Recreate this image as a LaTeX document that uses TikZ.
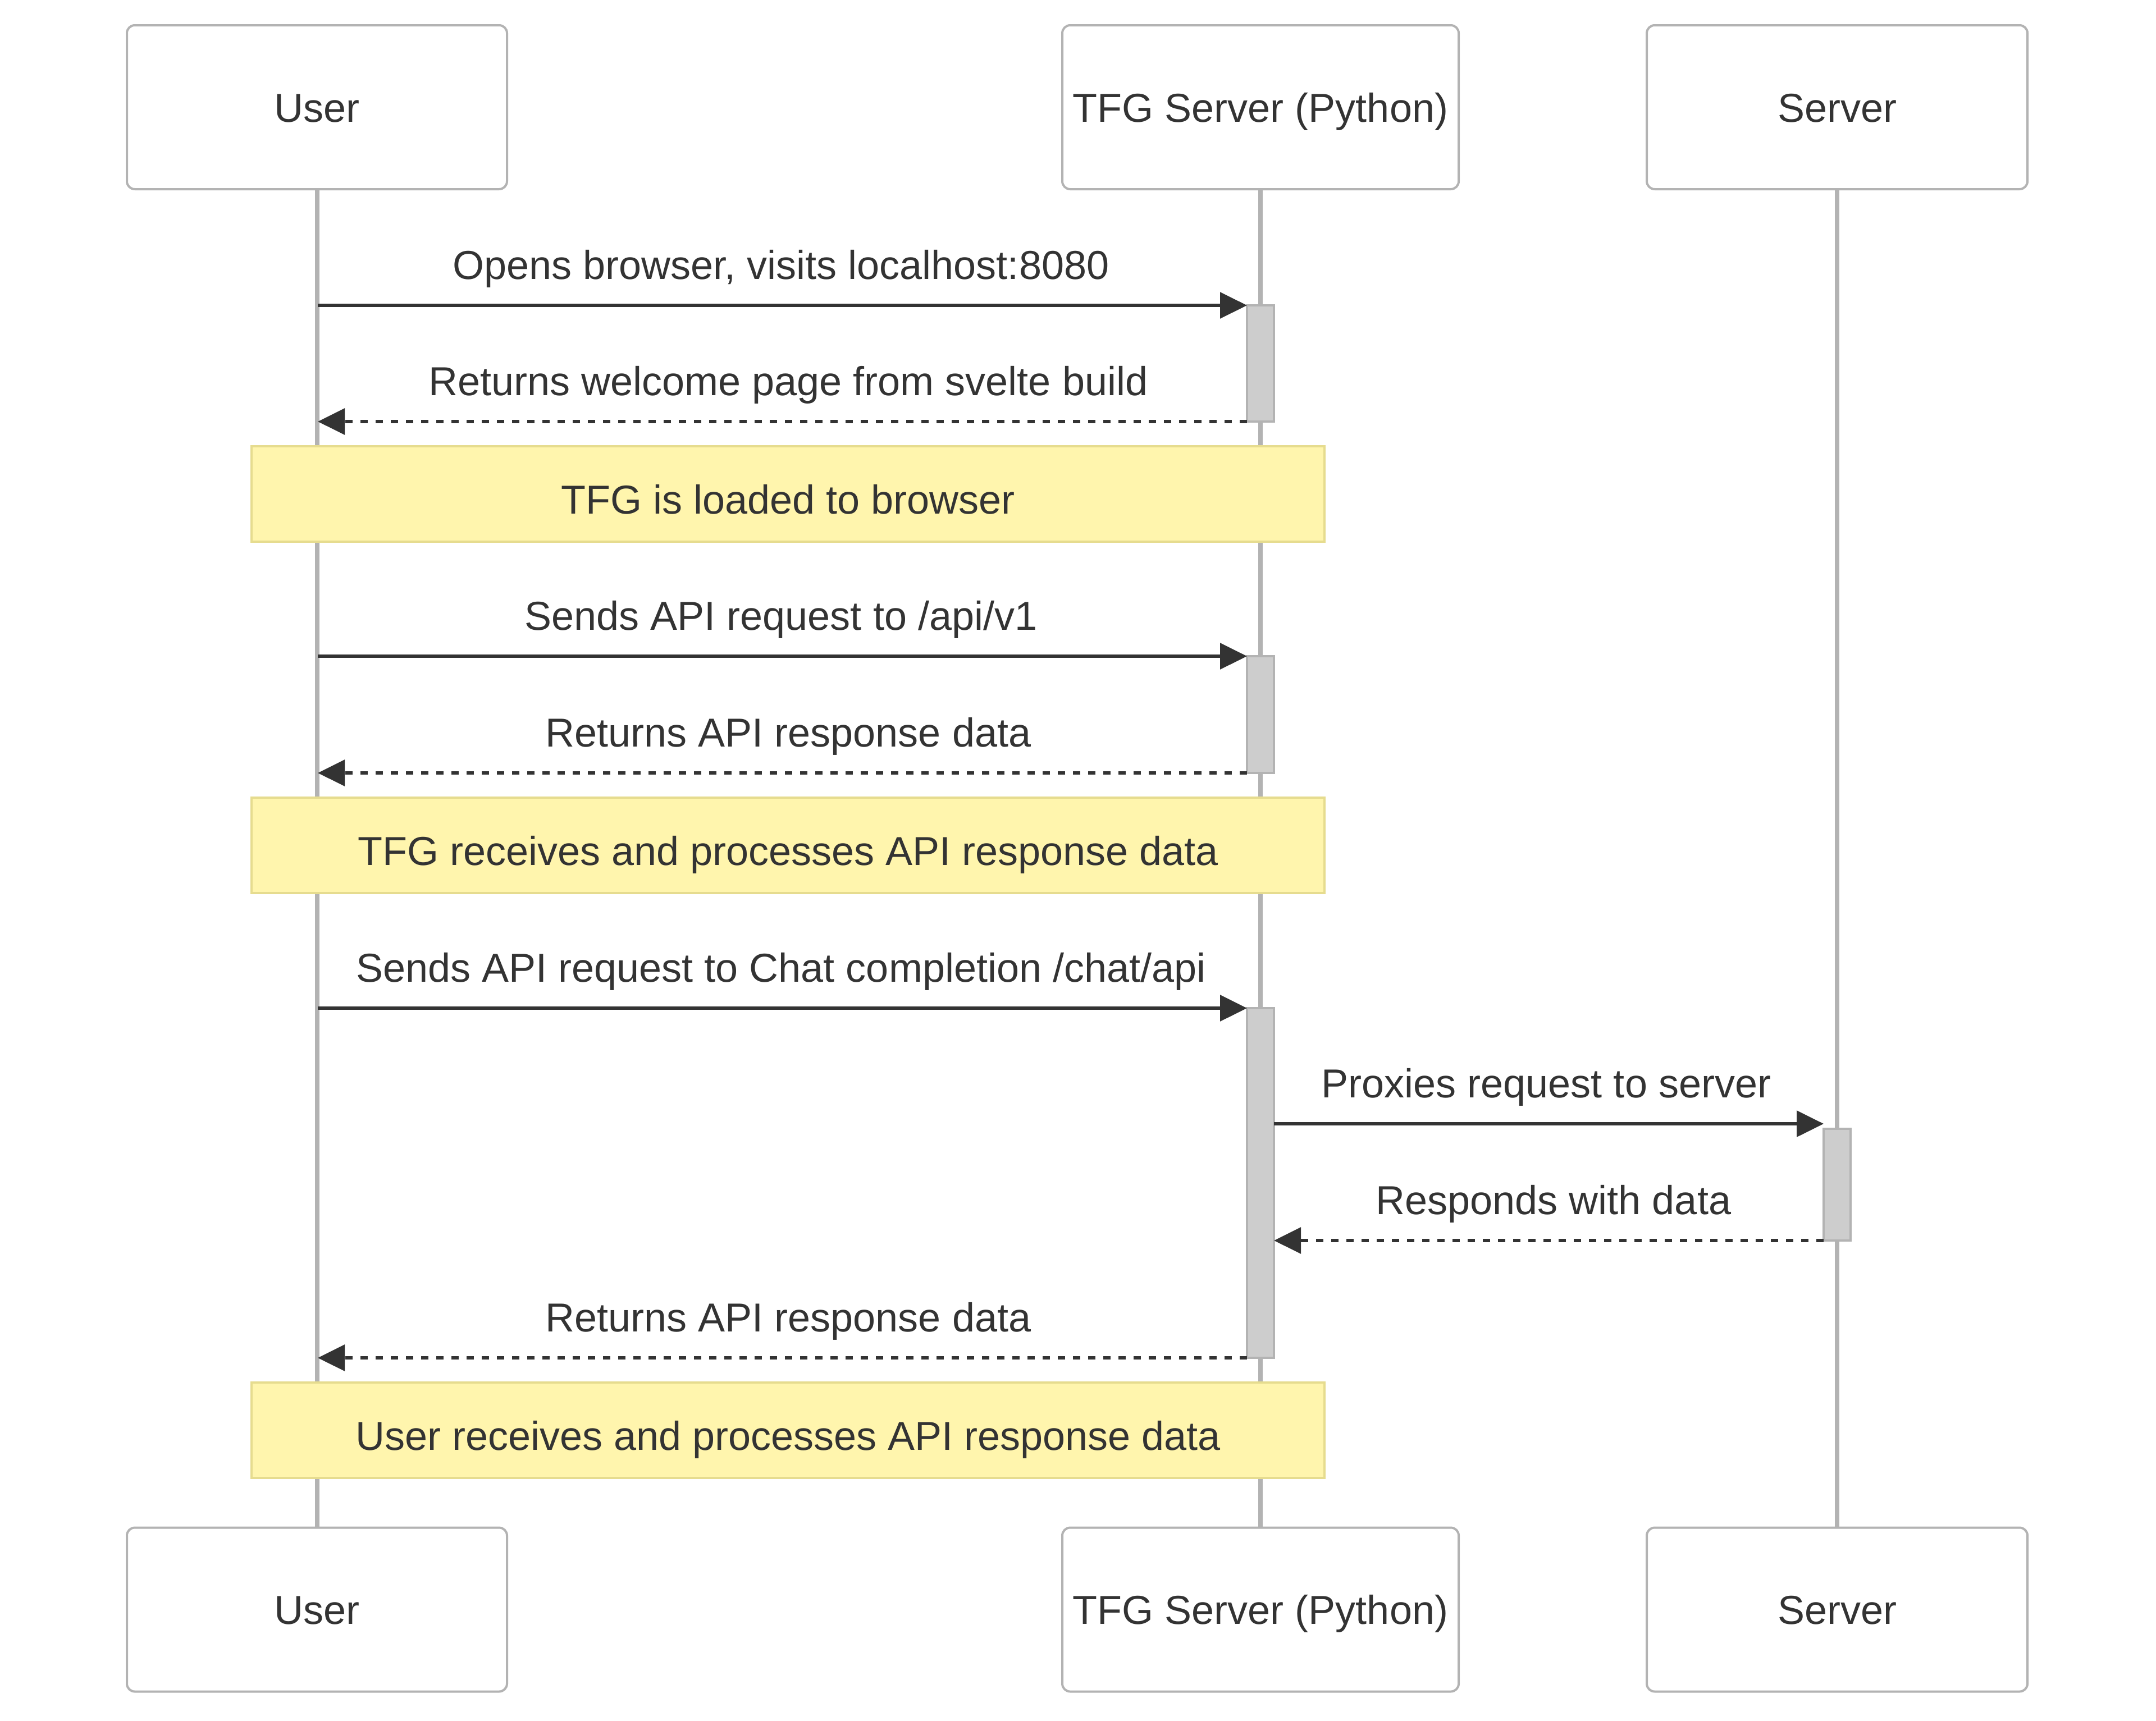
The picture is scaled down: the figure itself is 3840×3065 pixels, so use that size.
\documentclass[tikz,border=0pt]{standalone}
\usepackage{fontspec}
\setmainfont{Liberation Sans}
\usetikzlibrary{arrows.meta}
\definecolor{txt}{HTML}{333333}
\definecolor{lgray}{HTML}{B3B3B3}
\definecolor{actfill}{HTML}{CDCDCD}
\definecolor{notefill}{HTML}{FFF5AD}
\definecolor{notedraw}{HTML}{E6DC8F}
\begin{document}
\begin{tikzpicture}[x=1pt,y=-1pt,
  every node/.style={font=\fontsize{72}{86}\selectfont, text=txt},
  actor/.style={draw=lgray, line width=4pt, rounded corners=14pt, fill=white,
    minimum height=292pt, inner sep=0pt, outer sep=0pt, text height=52pt, text depth=0pt},
  lifeline/.style={draw=lgray, line width=8pt},
  actbox/.style={draw=lgray, fill=actfill, line width=4pt, minimum width=48pt,
    inner sep=0pt, outer sep=0pt},
  notebox/.style={draw=notedraw, fill=notefill, line width=4pt, minimum width=1911pt,
    minimum height=170pt, inner sep=0pt, outer sep=0pt, text height=70pt, text depth=0pt},
  msg/.style={draw=txt, line width=6pt, -{Triangle[length=48pt,width=46pt]}},
  reply/.style={msg, dash pattern=on 13.5pt off 13.5pt},
  lbl/.style={anchor=base, inner sep=0pt}
]
\useasboundingbox (0,0) rectangle (3840,3065);

% actors
\node[actor, minimum width=677pt] (ut) at (564.5,191) {User};
\node[actor, minimum width=706pt] (tt) at (2245,191) {TFG Server (Python)};
\node[actor, minimum width=678pt] (st) at (3272,191) {Server};
\node[actor, minimum width=677pt] (ub) at (564.5,2867.5) {User};
\node[actor, minimum width=706pt] (tb) at (2245,2867.5) {TFG Server (Python)};
\node[actor, minimum width=678pt] (sb) at (3272,2867.5) {Server};

% lifelines
\draw[lifeline] (ut.south) -- (ub.north);
\draw[lifeline] (tt.south) -- (tb.north);
\draw[lifeline] (st.south) -- (sb.north);

% notes
\node[notebox] (n1) at (1403.5,880) {TFG is loaded to browser};
\node[notebox] (n2) at (1403.5,1506) {TFG receives and processes API response data};
\node[notebox] (n3) at (1403.5,2548) {User receives and processes API response data};

% activations
\node[actbox, minimum height=207pt] (a1) at (2245,647.5) {};
\node[actbox, minimum height=208pt] (a2) at (2245,1273) {};
\node[actbox, minimum height=623pt] (a3) at (2245,2107.5) {};
\node[actbox, minimum height=199pt] (a4) at (3272,2110.5) {};

% endpoints on the User lifeline and between activations
\coordinate (u1) at (566,544);
\coordinate (u2) at (566,751);
\coordinate (u3) at (566,1169);
\coordinate (u4) at (566,1377);
\coordinate (u5) at (566,1796);
\coordinate (u8) at (566,2419);
\coordinate (t6) at (2269,2002);
\coordinate (s6) at (3248,2002);

% messages
\draw[msg] (u1) -- (a1.north west);
\draw[reply] (a1.south west) -- (u2);
\draw[msg] (u3) -- (a2.north west);
\draw[reply] (a2.south west) -- (u4);
\draw[msg] (u5) -- (a3.north west);
\draw[msg] (t6) -- (s6);
\draw[reply] (a4.south west) -- (a4.south west -| a3.east);
\draw[reply] (a3.south west) -- (u8);

% labels
\node[lbl] (l1) at (1391,497) {Opens browser, visits localhost:8080};
\node[lbl] (l2) at (1404,704) {Returns welcome page from svelte build};
\node[lbl] (l3) at (1391,1122) {Sends API request to /api/v1};
\node[lbl] (l4) at (1404,1330) {Returns API response data};
\node[lbl] (l5) at (1391,1749) {Sends API request to Chat completion /chat/api};
\node[lbl] (l6) at (2754,1955) {Proxies request to server};
\node[lbl] (l7) at (2767,2163) {Responds with data};
\node[lbl] (l8) at (1404,2372) {Returns API response data};
\end{tikzpicture}
\end{document}
